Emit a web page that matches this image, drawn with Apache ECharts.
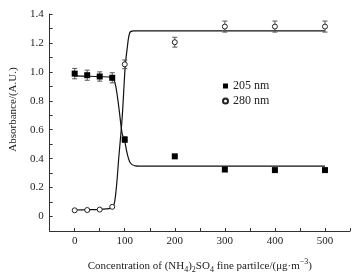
<!DOCTYPE html>
<html>
<head>
<meta charset="utf-8">
<script src="https://cdn.jsdelivr.net/npm/echarts@6/dist/echarts.min.js"></script>
<style>html,body{margin:0;padding:0;background:#fff}#c{width:360px;height:279px}</style>
</head>
<body>
<div id="c"></div>
<script>
// Measured points
var conc = [0, 25, 50, 75, 100, 200, 300, 400, 500];
var abs205 = [0.988, 0.977, 0.968, 0.959, 0.532, 0.416, 0.325, 0.321, 0.321];
var err205 = [0.036, 0.035, 0.032, 0.035, 0.02, 0, 0, 0, 0];
var abs280 = [0.043, 0.045, 0.048, 0.067, 1.052, 1.205, 1.313, 1.313, 1.313];
var err280 = [0, 0, 0, 0, 0.03, 0.034, 0.038, 0.038, 0.038];
// Fitted curves
var fitX205 = [0, 25, 50, 75, 81.6, 88.3, 94.9, 99.4, 104.7, 111.3, 121, 140, 500];
var fitY205 = [0.972, 0.97, 0.967, 0.96, 0.909, 0.752, 0.572, 0.532, 0.438, 0.37, 0.35, 0.348, 0.348];
var fitX280 = [0, 25, 50, 75, 81.6, 88.3, 94.9, 99.4, 101.4, 104.7, 110, 118, 500];
var fitY280 = [0.045, 0.047, 0.05, 0.06, 0.146, 0.415, 0.685, 0.954, 1.055, 1.157, 1.27, 1.284, 1.284];
var xTicks = [0, 100, 200, 300, 400, 500];
var yTicks = [0, 0.2, 0.4, 0.6, 0.8, 1.0, 1.2, 1.4];

function zip(a, b) { return a.map(function (v, i) { return [v, b[i]]; }); }
function errData(y, e) { return conc.map(function (x, i) { return [x, y[i] - e[i], y[i] + e[i]]; }).filter(function (d, i) { return e[i] > 0; }); }

var FONT = 'Liberation Serif';
var TXT = '#222';

function errRender(params, api) {
  var x = api.value(0);
  var lo = api.coord([x, api.value(1)]);
  var hi = api.coord([x, api.value(2)]);
  var w = 2.5;
  var st = { stroke: '#555', lineWidth: 1 };
  return {
    type: 'group',
    children: [
      { type: 'line', shape: { x1: lo[0], y1: lo[1], x2: hi[0], y2: hi[1] }, style: st },
      { type: 'line', shape: { x1: lo[0] - w, y1: lo[1], x2: lo[0] + w, y2: lo[1] }, style: st },
      { type: 'line', shape: { x1: hi[0] - w, y1: hi[1], x2: hi[0] + w, y2: hi[1] }, style: st }
    ]
  };
}

var chart = echarts.init(document.getElementById('c'), null, { renderer: 'canvas' });
chart.setOption({
  animation: false,
  backgroundColor: '#fff',
  grid: { left: 47, top: 14, right: 10, bottom: 42, containLabel: false },
  legend: {
    orient: 'vertical', left: 217, top: 75, itemGap: 3, itemWidth: 5, itemHeight: 5,
    textStyle: { fontFamily: FONT, fontSize: 12, color: TXT },
    data: ['205 nm', '280 nm']
  },
  xAxis: {
    type: 'value', min: -50, max: 550, interval: 50,
    name: 'Concentration of (NH{sub|4}){sub|2}SO{sub|4} fine partilce/(μg·m{sup|−3})',
    nameLocation: 'middle', nameGap: 27,
    nameTextStyle: {
      fontFamily: FONT, fontSize: 11, color: TXT, lineHeight: 16,
      rich: {
        sub: { fontFamily: FONT, fontSize: 8, color: TXT, lineHeight: 10, verticalAlign: 'bottom', padding: [6, 0, 0, 0] },
        sup: { fontFamily: FONT, fontSize: 8, color: TXT, lineHeight: 10, verticalAlign: 'top', padding: [0, 0, 5, 0] }
      }
    },
    axisLine: { onZero: false, lineStyle: { color: '#333', width: 1 } },
    axisTick: { inside: true, length: 3, lineStyle: { color: '#333' } },
    axisLabel: {
      fontFamily: FONT, fontSize: 11, color: TXT, margin: 5,
      formatter: function (v) { return xTicks.indexOf(Math.round(v)) >= 0 ? String(Math.round(v)) : ''; }
    },
    splitLine: { show: false }
  },
  yAxis: {
    type: 'value', min: -0.1, max: 1.4, interval: 0.1,
    name: 'Absorbance/(A.U.)', nameLocation: 'middle', nameGap: 29,
    nameTextStyle: { fontFamily: FONT, fontSize: 11, color: TXT, padding: [0, 0, 0, 26] },
    axisLine: { show: true, onZero: false, lineStyle: { color: '#333', width: 1 } },
    axisTick: { show: true, inside: true, length: 3, lineStyle: { color: '#333' } },
    axisLabel: {
      fontFamily: FONT, fontSize: 11, color: TXT, margin: 6,
      formatter: function (v) {
        var r = Math.round(v * 10) / 10;
        for (var i = 0; i < yTicks.length; i++) {
          if (Math.abs(yTicks[i] - r) < 1e-6) return r === 0 ? '0' : r.toFixed(1);
        }
        return '';
      }
    },
    splitLine: { show: false }
  },
  series: [
    { name: 'fit205', type: 'line', data: zip(fitX205, fitY205), smooth: 0.3, symbol: 'none', lineStyle: { color: '#111', width: 1.2 }, z: 2 },
    { name: 'fit280', type: 'line', data: zip(fitX280, fitY280), smooth: 0.3, symbol: 'none', lineStyle: { color: '#111', width: 1.2 }, z: 2 },
    { name: 'e205', type: 'custom', renderItem: errRender, data: errData(abs205, err205), z: 3 },
    { name: 'e280', type: 'custom', renderItem: errRender, data: errData(abs280, err280), z: 3 },
    { name: '205 nm', type: 'scatter', data: zip(conc, abs205), symbol: 'rect', symbolSize: 6, itemStyle: { color: '#000', opacity: 1 }, z: 5 },
    { name: '280 nm', type: 'scatter', data: zip(conc, abs280), symbol: 'circle', symbolSize: 5, itemStyle: { color: '#fff', borderColor: '#222', borderWidth: 1, opacity: 1 }, z: 5 }
  ]
});
</script>
</body>
</html>
